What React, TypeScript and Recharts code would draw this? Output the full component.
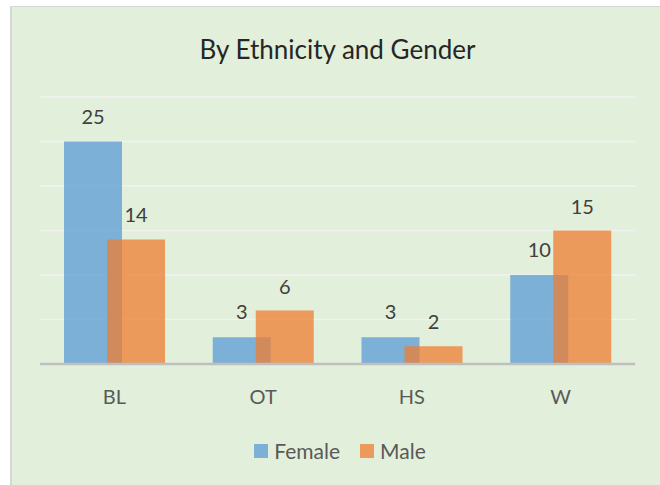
import React from "react";
import { BarChart, Bar, XAxis, YAxis, CartesianGrid, LabelList, Legend } from "recharts";

const categories = ["BL", "OT", "HS", "W"];
const femaleValues = [25, 3, 3, 10];
const maleValues = [14, 6, 2, 15];
const yTicks = [0, 5, 10, 15, 20, 25, 30];

const data = categories.map((c, i) => ({ name: c, Female: femaleValues[i], Male: maleValues[i] }));

const FONT = "Lato, 'Open Sans', sans-serif";

const LegendContent = () => (
  <div style={{ display: "flex", justifyContent: "center", alignItems: "center", fontFamily: FONT, fontSize: 21, color: "#595959", paddingLeft: 8 }}>
    <span style={{ display: "inline-block", width: 14, height: 14, background: "#5B9BD5", opacity: 0.75, marginRight: 6 }} />
    <span style={{ marginRight: 20 }}>Female</span>
    <span style={{ display: "inline-block", width: 14, height: 14, background: "#ED7D31", opacity: 0.75, marginRight: 6 }} />
    <span>Male</span>
  </div>
);

export default function App() {
  return (
    <div style={{ position: "absolute", left: 10, top: 6, width: 648, height: 479, background: "#E2EFDA", borderLeft: "2px solid #D6D6D6", borderTop: "1px solid #D6D6D6" }}>
      <div style={{ position: "absolute", left: 28, width: 595, top: 26, textAlign: "center", fontFamily: FONT, fontSize: 26, color: "#262626" }}>
        By Ethnicity and Gender
      </div>
      <BarChart width={648} height={478} data={data} margin={{ top: 90, right: 25, left: 28, bottom: 91 }} barSize={58} barGap={-15}>
        <CartesianGrid horizontal vertical={false} stroke="#F2F2F2" strokeWidth={1.5} />
        <YAxis hide domain={[0, 30]} ticks={yTicks} />
        <XAxis
          dataKey="name"
          height={30}
          tickLine={false}
          axisLine={{ stroke: "#BFBFBF", strokeWidth: 2.5 }}
          tickMargin={20}
          tick={{ fill: "#595959", fontSize: 20, fontFamily: FONT }}
        />
        <Legend layout="horizontal" verticalAlign="middle" align="center" wrapperStyle={{ top: 431, left: 0, width: 648 }} content={<LegendContent />} />
        <Bar dataKey="Female" fill="#5B9BD5" fillOpacity={0.75} isAnimationActive={false}>
          <LabelList dataKey="Female" position="top" offset={18} fill="#404040" fontSize={20} fontFamily={FONT} />
        </Bar>
        <Bar dataKey="Male" fill="#ED7D31" fillOpacity={0.75} isAnimationActive={false}>
          <LabelList dataKey="Male" position="top" offset={17} fill="#404040" fontSize={20} fontFamily={FONT} />
        </Bar>
      </BarChart>
    </div>
  );
}
